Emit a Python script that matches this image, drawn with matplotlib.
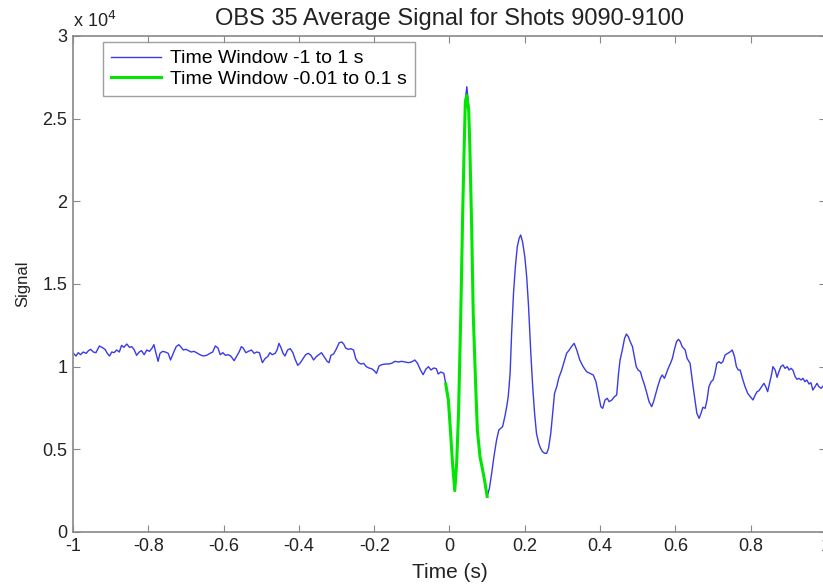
import numpy as np
import matplotlib.pyplot as plt
from matplotlib.ticker import FuncFormatter

plt.rcParams['font.family'] = ['Liberation Sans', 'DejaVu Sans']

# full trace, time window -1 to 1 s
t_full = [-0.999, -0.992, -0.986, -0.980, -0.973, -0.965, -0.959, -0.953, -0.946, -0.939,
          -0.930, -0.923, -0.915, -0.909, -0.903, -0.897, -0.891, -0.884, -0.877, -0.871,
          -0.865, -0.857, -0.850, -0.844, -0.838, -0.831, -0.824, -0.818, -0.811, -0.804,
          -0.797, -0.791, -0.785, -0.780, -0.774, -0.769, -0.762, -0.755, -0.747, -0.741,
          -0.733, -0.726, -0.719, -0.714, -0.707, -0.700, -0.693, -0.686, -0.679, -0.672,
          -0.663, -0.654, -0.645, -0.636, -0.629, -0.622, -0.615, -0.609, -0.602, -0.595,
          -0.588, -0.581, -0.572, -0.565, -0.558, -0.553, -0.548, -0.541, -0.534, -0.526,
          -0.519, -0.512, -0.505,
          -0.497, -0.490, -0.483, -0.477, -0.471, -0.463, -0.458, -0.453, -0.448, -0.442,
          -0.437, -0.430, -0.423, -0.416, -0.410, -0.403, -0.396, -0.389, -0.382, -0.375,
          -0.368, -0.361, -0.354, -0.347, -0.340, -0.332, -0.325, -0.320, -0.315, -0.308,
          -0.301, -0.293, -0.286, -0.281, -0.276, -0.269, -0.262, -0.255, -0.249, -0.242,
          -0.235, -0.228, -0.221, -0.214, -0.207, -0.200, -0.194, -0.187, -0.180, -0.171,
          -0.162, -0.154, -0.145, -0.136, -0.127, -0.118, -0.109, -0.101, -0.092, -0.085,
          -0.077, -0.070, -0.063, -0.056, -0.049, -0.042, -0.035, -0.030, -0.023, -0.015,
          -0.010, -0.003, 0.003, 0.008, 0.014, 0.019, 0.024, 0.030, 0.035, 0.039,
          0.042, 0.046, 0.051, 0.054, 0.059, 0.063, 0.069, 0.074, 0.081, 0.088,
          0.093, 0.100, 0.106, 0.112, 0.118, 0.125, 0.131, 0.136, 0.141, 0.147,
          0.152, 0.156, 0.161, 0.165, 0.170, 0.175, 0.180, 0.185, 0.189, 0.194,
          0.200, 0.205, 0.210, 0.216, 0.221, 0.226, 0.231, 0.237, 0.242, 0.247,
          0.253, 0.258, 0.263, 0.269, 0.274, 0.279, 0.285, 0.290, 0.298, 0.311,
          0.318, 0.324, 0.331, 0.338, 0.346, 0.355, 0.364, 0.373, 0.382, 0.389,
          0.395, 0.402, 0.407, 0.413, 0.419, 0.424, 0.431, 0.438, 0.444, 0.449,
          0.453, 0.459, 0.465, 0.470, 0.475, 0.480, 0.486, 0.491, 0.496, 0.501,
          0.507, 0.512, 0.518, 0.523, 0.530, 0.537, 0.542, 0.548, 0.553, 0.560,
          0.565, 0.571, 0.576, 0.581, 0.587, 0.592, 0.597, 0.603, 0.608, 0.613,
          0.618, 0.626, 0.631, 0.639, 0.647, 0.652, 0.657, 0.663, 0.668, 0.673,
          0.679, 0.684, 0.689, 0.695, 0.700, 0.705, 0.710, 0.716, 0.721, 0.726,
          0.732, 0.739, 0.746, 0.751, 0.757, 0.762, 0.767, 0.772, 0.778, 0.785,
          0.792, 0.799, 0.806, 0.812, 0.817, 0.822, 0.829, 0.835, 0.840, 0.845,
          0.850, 0.856, 0.859, 0.865, 0.870, 0.875, 0.880, 0.886, 0.891, 0.897,
          0.902, 0.907, 0.912, 0.918, 0.923, 0.928, 0.934, 0.939, 0.944, 0.949,
          0.955, 0.960, 0.965, 0.971, 0.976, 0.981, 0.987, 0.992, 1.000]
sig_full = [10806, 10645, 10846, 10725, 10887, 10806, 10967, 11048, 10887, 10846,
            11250, 11169, 11048, 10806, 10645, 10887, 10846, 11008, 10887, 11290,
            11169, 11370, 11169, 11209, 11048, 10685, 10887, 10967, 10725, 11008,
            10927, 11088, 11330, 10846, 10322, 10806, 10927, 10887, 10806, 10403,
            10846, 11209, 11330, 11209, 11008, 11048, 10967, 10887, 10927, 10846,
            10725, 10645, 10685, 10806, 10887, 11250, 11129, 10725, 10846, 10685,
            10725, 10645, 10362, 10645, 10927, 11209, 11129, 10846, 10927, 11008,
            10806, 10887, 10846,
            10242, 10484, 10604, 10846, 10725, 10806, 11008, 11411, 11169, 10806,
            10645, 11008, 11088, 10846, 10443, 10080, 10242, 10484, 10725, 10806,
            10685, 10403, 10604, 10725, 10846, 10564, 10322, 10242, 10685, 10766,
            11048, 11451, 11491, 11370, 11129, 11048, 11088, 11008, 10484, 10242,
            10161, 10201, 10000, 9919, 9879, 9758, 9596, 10040, 10121, 10161,
            10161, 10201, 10322, 10282, 10322, 10282, 10242, 10282, 10403, 10201,
            9798, 9516, 9838, 10000, 9798, 9919, 9879, 9556, 9677, 9596,
            8950, 7983, 5967, 4153, 2500, 4153, 7177, 13225, 19273, 23305,
            26128, 26934, 25724, 23305, 18265, 13225, 9193, 6169, 4556, 3750,
            3145, 2150, 2641, 3548, 4556, 5564, 6169, 6270, 6371, 6976,
            7580, 8185, 9596, 12016, 14435, 16047, 17257, 17761, 17963, 17560,
            16652, 15442, 13628, 10806, 8790, 7177, 5967, 5362, 5060, 4859,
            4758, 4758, 5060, 5967, 7177, 8387, 8800, 9300, 9800, 10806,
            11008, 11210, 11411, 11008, 10403, 10000, 9698, 9596, 9496, 9092,
            8387, 7580, 7480, 7983, 8084, 7883, 7983, 8185, 8286, 9596,
            10403, 11008, 11713, 11975, 11814, 11512, 11210, 10605, 10000, 9798,
            9697, 9294, 8891, 8488, 7883, 7581, 7883, 8387, 8790, 9294,
            9496, 9294, 9597, 9899, 10201, 10504, 11008, 11512, 11653, 11512,
            11210, 11008, 10504, 10201, 8790, 7984, 7177, 6875, 7177, 7540,
            7480, 7984, 8790, 9092, 9193, 9596, 10201, 10302, 10201, 10302,
            10705, 10806, 10907, 11008, 10604, 10000, 9798, 9798, 9294, 8790,
            8387, 8185, 7984, 8286, 8488, 8548, 8790, 8992, 8790, 8488,
            8992, 9596, 10000, 9798, 9355, 9697, 10000, 10100, 9899, 10000,
            9798, 9899, 9798, 9395, 9234, 9294, 9193, 9294, 9092, 9193,
            8951, 9032, 8589, 8790, 8992, 8790, 8689, 8830, 8800]

# short window -0.01 to 0.1 s
t_win = [-0.010, -0.003, 0.003, 0.008, 0.014, 0.019, 0.024, 0.030, 0.035, 0.039,
         0.042, 0.046, 0.051, 0.054, 0.059, 0.063, 0.069, 0.074, 0.081, 0.088,
         0.093, 0.100]
sig_win = [8950, 7983, 5967, 4153, 2500, 4153, 7177, 13225, 19273, 23305,
           26000, 26400, 25500, 23305, 18265, 13225, 9193, 6169, 4556, 3750,
           3145, 2150]

fig = plt.figure(figsize=(8.23, 5.84), dpi=100)
ax = fig.add_axes([73/823, 52/584, 753/823, 496/584])

ax.plot(t_full, sig_full, color='#3a3ae6', lw=1.0, label='Time Window -1 to 1 s')
ax.plot(t_win, sig_win, color='#00e600', lw=2.2, label='Time Window -0.01 to 0.1 s')

ax.set_xlim(-1, 1)
ax.set_ylim(0, 30000)
ax.set_xticks(np.arange(-1, 1.01, 0.2))
ax.set_yticks(np.arange(0, 30001, 5000))
ax.xaxis.set_major_formatter(FuncFormatter(lambda v, p: '%g' % (round(v, 1) + 0.0)))
ax.yaxis.set_major_formatter(FuncFormatter(lambda v, p: '%g' % (v / 1e4)))
ax.tick_params(direction='in', length=5, top=True, right=True, labelsize=13,
               color='#888888', labelcolor='#222222', pad=4)
for s in ax.spines.values():
    s.set_color('#888888')
    s.set_linewidth(1.2)

ax.text(0.0, 1.01, r'x 10$^4$', transform=ax.transAxes, fontsize=13, color='#222222',
        ha='left', va='bottom')
ax.set_title('OBS 35 Average Signal for Shots 9090-9100', fontsize=17, color='#222222', pad=8)
ax.set_xlabel('Time (s)', fontsize=15, color='#222222', labelpad=6)
ax.set_ylabel('Signal', fontsize=12, color='#222222', labelpad=9)

leg = ax.legend(loc='upper left', bbox_to_anchor=(30/753, 1 - 6/496), borderaxespad=0,
                fancybox=False, edgecolor='#888888', fontsize=14, handlelength=2.6,
                handletextpad=0.45, borderpad=0.4, labelspacing=0.15)
leg.get_frame().set_linewidth(1.0)

fig.savefig('out.png', dpi=100)
